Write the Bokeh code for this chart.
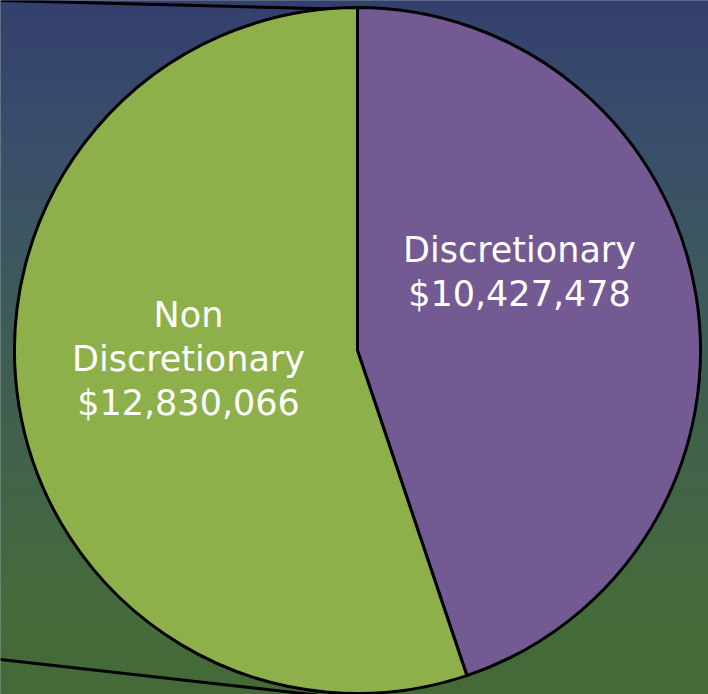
import math
from bokeh.plotting import figure
from bokeh.models import ColumnDataSource
from bokeh.core.properties import value
from bokeh.embed import file_html
from bokeh.resources import INLINE

# ---- data ----
categories = ["Discretionary", "Non Discretionary"]
amounts = [10427478, 12830066]
colors = ["#735a93", "#8db04a"]
label_lines = [["Discretionary", "$10,427,478"], ["Non", "Discretionary", "$12,830,066"]]

W, H = 708, 694
cx, cy, R = 357, H - 350, 343

p = figure(width=W, height=H, x_range=(0, W), y_range=(0, H),
           output_backend="svg", toolbar_location=None, min_border=0)
p.axis.visible = False
p.grid.visible = False
p.outline_line_color = None
p.background_fill_color = "#3d5a5a"
p.border_fill_color = "#3d5a5a"

# ---- background gradient (decoration) ----
stops = [(0, (0x34, 0x40, 0x6e)), (150, (0x3a, 0x4f, 0x6a)), (300, (0x3d, 0x5a, 0x5a)),
         (450, (0x41, 0x62, 0x4a)), (600, (0x45, 0x6b, 0x3c)), (694, (0x45, 0x6a, 0x38))]
def col_at(y):
    for (y0, c0), (y1, c1) in zip(stops[:-1], stops[1:]):
        if y0 <= y <= y1:
            t = (y - y0) / (y1 - y0)
            return "#%02x%02x%02x" % tuple(int(round(a + (b - a) * t)) for a, b in zip(c0, c1))
    return "#%02x%02x%02x" % stops[-1][1]
tops, bots, fills = [], [], []
step = 3
for yy in range(-3, H + 3, step):
    tops.append(H - yy)
    bots.append(H - yy - step - 1)
    fills.append(col_at(min(max(yy + step / 2, 0), H)))
p.quad(left=-5, right=W + 5, top=tops, bottom=bots, fill_color=fills, line_color=None)

# decorative leader lines
p.line(x=[0, 357], y=[H - 0, H - 9], line_color="black", line_width=3)
p.line(x=[0, 320], y=[H - 659, H - 695], line_color="black", line_width=3)

# ---- pie ----
total = sum(amounts)
starts, ends = [], []
a = math.pi / 2
for v in amounts:
    starts.append(a)
    a -= 2 * math.pi * v / total
    ends.append(a)
src = ColumnDataSource(dict(cat=categories, start=starts, end=ends, color=colors))
p.wedge(x=cx, y=cy, radius=R, start_angle="start", end_angle="end", direction="clock",
        fill_color="color", line_color="black", line_width=3, source=src)

# ---- labels ----
label_pos = [(519, 271), (188, 358)]  # center x, center y (pixel from top)
lh = 44
for lines, (lx, ly) in zip(label_lines, label_pos):
    n = len(lines)
    ys = [H - (ly + (i - (n - 1) / 2) * lh) for i in range(n)]
    p.text(x=[lx] * n, y=ys, text=lines, text_color="white",
           text_font=value("DejaVu Sans"), text_font_size="35px",
           text_align="center", text_baseline="middle")

html = file_html(p, INLINE)
html = html.replace("<head>", "<head><style>html,body{margin:0;padding:0;}</style>", 1)
open("out.html", "w").write(html)
